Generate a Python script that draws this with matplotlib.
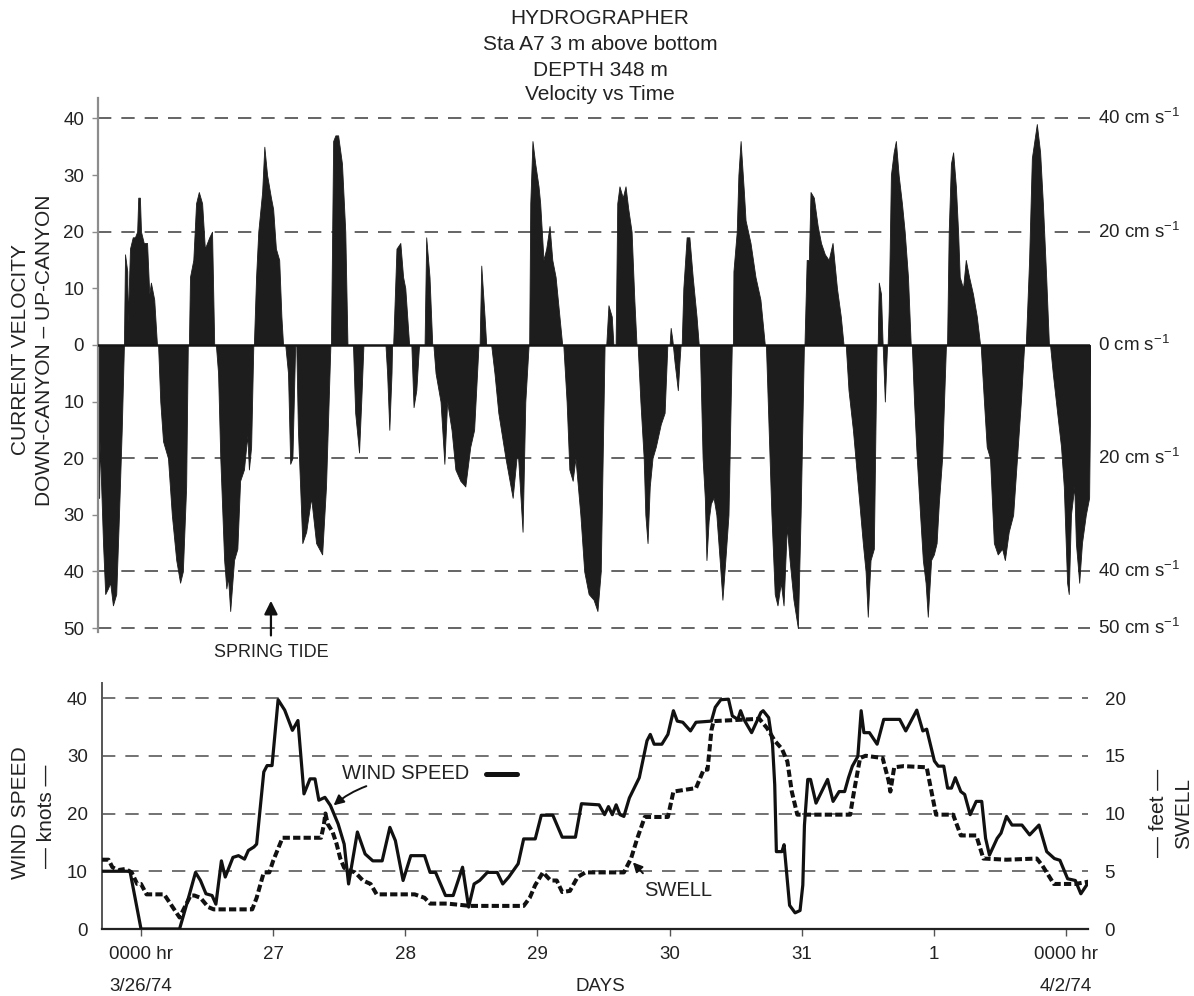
import matplotlib
matplotlib.use("Agg")
import matplotlib.pyplot as plt
import matplotlib.transforms as mtransforms

plt.rcParams['font.family'] = ['Liberation Sans', 'DejaVu Sans']
plt.rcParams['mathtext.fontset'] = 'custom'
plt.rcParams['mathtext.rm'] = 'Liberation Sans'
plt.rcParams['mathtext.it'] = 'Liberation Sans:italic'

# time axis: hours after 0000 hr 3/26/74
# current velocity (cm/s), + up-canyon, - down-canyon; one line per tidal lobe
vel_hours = [
    -8.0, -7.6, -7.5, -6.9, -6.5, -6.0, -5.6, -5.1, -4.5, -4.0, -3.5, -3.1,
    -2.9, -2.5, -2.4, -2.0, -1.5, -1.1, -0.7, -0.5, -0.2, 0.0, 0.5, 1.1, 1.5, 1.8, 2.4, 2.9,
    3.1, 3.5, 4.0, 4.9, 5.6, 6.4, 7.1, 7.6, 8.2, 8.5,
    8.7, 8.9, 9.5, 10.0, 10.5, 11.1, 11.6, 12.4, 12.9, 13.3,
    13.6, 14.0, 14.4, 15.1, 15.5, 15.8, 16.2, 16.9, 17.5, 18.0, 18.7, 19.3, 19.6, 20.0, 20.4,
    20.5, 20.9, 21.3, 22.0, 22.4, 22.9, 23.6, 24.0, 24.5, 25.1, 25.5, 25.8,
    26.2, 26.7, 27.1, 27.5, 28.0,
    28.2, 28.5, 29.3, 30.0, 30.9, 31.8, 32.9, 33.6, 34.4,
    34.5, 34.9, 35.3, 35.8, 36.5, 37.1, 37.5,
    38.5, 38.9, 39.6, 40.0, 40.4,
    44.4, 44.7, 45.1, 45.5, 45.6,
    45.8, 46.4, 47.1, 47.6, 48.0, 48.7,
    49.1, 49.5, 50.0, 50.5,
    51.5, 51.8, 52.4, 52.9,
    53.1, 53.5, 54.4, 55.1, 55.6, 56.4, 57.1, 58.0, 58.9, 59.8, 60.5, 61.3,
    61.5, 61.8, 62.4, 62.7,
    63.6, 64.2, 64.9, 66.2, 67.5, 68.2, 68.5, 69.3, 69.8, 70.4,
    70.5, 70.7, 71.1, 71.6, 72.2, 72.5, 73.1, 73.6, 74.2, 74.7, 75.3, 76.0, 76.5,
    76.7, 77.3, 77.8, 78.4, 78.9, 79.8, 80.5, 81.3, 82.2, 82.9, 83.5, 84.2,
    84.5, 84.9, 85.5, 85.8,
    86.2, 86.5, 86.9, 87.5, 88.0, 88.5, 89.1, 89.6, 90.0,
    90.2, 90.7, 91.3, 91.6, 92.0, 92.4, 92.9, 93.5, 94.4, 95.1, 95.6,
    96.0, 96.2, 96.5, 96.9, 97.5, 97.8, 98.0,
    98.2, 98.5, 99.1, 99.6, 100.2, 100.9, 101.3,
    101.5, 102.0, 102.4, 102.7, 103.1, 103.5, 104.0, 104.5, 105.1, 105.6, 106.2, 106.7, 107.3,
    107.5, 107.6, 108.2, 108.5, 108.9, 109.5, 109.8, 110.7, 111.6, 112.5, 113.3,
    113.5, 114.0, 114.5, 115.1, 115.6, 116.2, 116.7, 117.3, 117.8, 118.5, 119.3, 119.8, 120.4,
    120.5, 120.9, 121.3, 121.6, 122.2, 122.9, 123.5, 124.2, 124.9, 125.6, 126.4, 127.1, 127.6,
    128.0, 128.5, 129.3, 130.2, 131.1, 131.6, 132.0, 132.5, 133.1, 133.6,
    133.8, 134.0, 134.4, 134.7, 134.9, 135.1, 135.5,
    135.6, 135.8, 136.2, 136.7, 137.1, 137.6, 138.2, 138.7, 139.3, 139.8,
    140.0, 140.4, 140.9, 141.5, 142.0, 142.5, 142.9, 143.5, 144.0, 144.5, 144.9, 145.5, 146.2,
    146.4, 146.7, 147.1, 147.5, 148.0, 148.4, 148.7, 149.3, 149.8, 150.4, 151.1, 151.8, 152.4,
    152.5, 153.1, 153.6, 154.2, 154.9, 155.6, 156.4, 156.9, 157.6, 158.4, 159.1, 159.8, 160.4,
    160.7, 161.3, 161.8, 162.4, 162.7, 163.3, 163.8, 164.4, 164.9,
    165.1, 165.6, 166.4, 167.1, 167.6, 168.2, 168.5, 168.9, 169.5, 169.8, 170.4, 170.9, 171.6, 172.2, 172.5,
]
vel_cms = [
    -27, -27, -17, -35, -44, -43, -42, -46, -44, -30, -15, 0,
    16, 13, 4, 17, 19, 19, 20, 26, 26, 20, 18, 18, 9, 11, 8, 0,
    0, -10, -17, -20, -30, -38, -42, -40, -25, 0,
    0, 12, 15, 25, 27, 25, 17, 19, 20, 0,
    0, -5, -20, -38, -43, -41, -47, -38, -36, -24, -22, -16, -22, -18, 0,
    0, 12, 20, 27, 35, 30, 26, 24, 17, 15, 5, 0,
    0, -5, -21, -20, 0,
    0, -15, -35, -33, -27, -35, -37, -25, 0,
    0, 36, 37, 37, 32, 20, 0,
    0, -12, -19, -10, 0,
    0, -5, -15, -5, 0,
    0, 17, 18, 12, 10, 0,
    0, -11, -8, 0,
    0, 19, 12, 0,
    0, -5, -10, -21, -10, -15, -22, -24, -25, -18, -15, 0,
    0, 14, 5, 0,
    0, -5, -12, -20, -27, -20, -20, -33, -10, 0,
    0, 25, 36, 32, 28, 25, 15, 17, 21, 15, 12, 5, 0,
    0, -10, -22, -24, -20, -30, -40, -44, -45, -47, -40, 0,
    0, 7, 5, 0,
    0, 25, 28, 26, 28, 24, 20, 8, 0,
    0, -10, -20, -30, -35, -25, -20, -18, -14, -12, 0,
    0, 3, 1, -3, -8, -3, 0,
    0, 10, 19, 19, 12, 5, 0,
    0, -20, -27, -38, -31, -28, -27, -30, -38, -45, -37, -30, 0,
    0, 13, 20, 30, 36, 27, 22, 18, 12, 8, 0,
    0, -15, -30, -44, -46, -42, -46, -32, -38, -45, -50, -30, 0,
    0, 15, 15, 27, 26, 21, 18, 16, 15, 18, 10, 5, 0,
    0, -8, -15, -25, -35, -40, -48, -38, -36, 0,
    0, 11, 9, 0, -5, -10, 0,
    0, 6, 30, 34, 36, 30, 25, 20, 12, 0,
    0, -10, -20, -30, -38, -42, -48, -38, -37, -35, -28, -20, 0,
    0, 20, 32, 34, 28, 20, 12, 10, 15, 12, 9, 5, 0,
    0, -10, -18, -20, -35, -37, -36, -38, -33, -30, -20, -10, 0,
    0, 15, 33, 37, 39, 34, 25, 12, 0,
    0, -5, -12, -18, -25, -42, -44, -30, -25, -35, -42, -35, -30, -27, 0,
]

# wind speed (knots)
wind_hours = [
    -7.1, -2.0, 0.0, 7.0, 8.3, 9.9, 10.8, 11.8, 12.9, 13.6, 14.6, 15.3, 16.7, 17.7,
    18.8, 19.5, 20.5, 21.0, 22.3, 22.9, 23.8, 24.9, 26.1, 27.5, 28.5, 29.6, 30.7, 31.6,
    32.3, 33.4, 34.4, 35.8, 36.9, 37.7, 39.3, 40.7, 42.1, 43.8, 45.2, 46.2, 47.6, 49.0,
    51.5, 52.5, 53.5, 55.3, 56.7, 58.4, 59.5, 60.5, 61.5, 62.9, 64.7, 65.7, 66.8, 68.5,
    69.5, 71.6, 72.7, 74.8, 76.5, 78.9, 80.0, 83.2, 84.2, 84.9, 85.6, 86.3, 87.0, 87.7,
    88.7, 90.5, 91.9, 92.5, 93.2, 94.6, 95.7, 96.7, 97.4, 98.4, 99.8, 100.8, 103.6, 104.3,
    105.3, 106.7, 107.4, 108.4, 108.9, 109.5, 110.9, 112.6, 113.0, 114.0, 114.7, 115.1,
    115.4, 116.4, 116.8, 117.8, 118.8, 119.7, 120.2, 120.5, 121.1, 121.6, 122.6, 124.7,
    125.7, 126.8, 127.8, 128.5, 129.2, 130.2, 130.8, 131.3, 132.3, 133.7, 134.9, 135.8,
    137.8, 138.9, 140.9, 142.0, 142.7, 144.1, 144.8, 145.8, 146.5, 147.2, 147.9, 148.9,
    149.6, 150.6, 151.7, 152.7, 153.4, 154.1, 155.5, 156.2, 157.2, 158.2, 160.0, 161.4,
    163.1, 164.5, 165.9, 166.9, 168.3, 169.7, 170.7, 172.1,
]
wind_knots = [
    10, 10, 0, 0, 4.3, 9.8, 8.4, 6.1, 5.8, 4.3, 11.8, 9.0, 12.4, 12.7,
    12.1, 13.6, 14.2, 14.7, 27.2, 28.3, 28.3, 39.7, 37.9, 34.4, 36.1, 23.4, 26.0, 26.0,
    22.3, 22.8, 21.4, 18.2, 14.7, 7.8, 16.8, 13.0, 11.8, 11.8, 17.6, 15.3, 8.4, 12.7,
    12.7, 9.8, 9.8, 5.8, 5.8, 10.7, 3.8, 7.8, 8.4, 9.8, 9.8, 7.8, 9.0, 11.3,
    15.6, 15.6, 19.7, 19.7, 15.9, 15.9, 21.7, 21.5, 19.8, 21.2, 19.8, 21.5, 19.8, 19.5,
    22.7, 26.2, 32.6, 33.7, 32.0, 32.0, 33.7, 37.8, 36.0, 35.8, 34.3, 35.8, 36.0, 38.4,
    39.7, 39.8, 36.9, 36.3, 37.8, 36.3, 34.0, 37.5, 37.8, 36.6, 32.0, 25.0,
    13.4, 13.4, 14.6, 4.1, 2.8, 3.2, 7.6, 18.0, 25.9, 25.9, 21.8, 25.9,
    22.1, 23.8, 23.8, 26.2, 28.2, 29.9, 37.8, 34.0, 34.0, 32.0, 36.3, 36.3,
    36.3, 34.3, 37.9, 34.3, 34.6, 29.1, 28.2, 28.2, 24.4, 24.4, 26.2, 23.8,
    23.3, 19.8, 22.1, 22.1, 15.7, 12.8, 15.7, 16.6, 19.5, 18.0, 18.0, 16.3,
    18.0, 13.4, 12.2, 11.9, 8.7, 8.4, 6.1, 8.1,
]

# swell height (feet)
swell_hours = [
    -7.1, -5.9, -5.2, -4.2, -2.8, -1.7, -0.7, 0.0, 1.0, 4.2, 5.6, 7.0, 9.0, 9.7,
    10.8, 12.2, 13.2, 20.2, 21.0, 22.3, 23.3, 24.0, 25.7, 32.7, 33.2, 33.5, 33.9, 34.8,
    35.5, 36.2, 36.9, 37.6, 38.9, 40.3, 41.7, 42.8, 49.7, 51.5, 52.5, 55.6, 59.8, 69.5,
    70.6, 71.6, 73.0, 74.4, 75.5, 76.5, 77.9, 79.3, 80.7, 87.7, 89.0, 90.1, 91.5, 95.7,
    96.7, 100.8, 102.2, 102.9, 103.6, 104.0, 112.3, 113.7, 115.1, 116.4, 117.4, 118.2,
    119.2, 128.8, 129.5, 130.6, 131.6, 134.7, 135.8, 136.1, 136.8, 138.5, 142.7, 144.4,
    147.5, 148.9, 151.7, 153.0, 157.2, 162.7, 163.7, 165.8, 169.7, 172.1,
]
swell_feet = [
    6.0, 6.0, 5.35, 5.1, 5.2, 4.9, 3.9, 3.9, 3.0, 3.0, 2.0, 1.0, 2.9, 2.9,
    2.7, 1.9, 1.7, 1.7, 2.7, 4.9, 4.9, 5.9, 7.9, 7.9, 9.0, 10.0, 9.1, 8.4,
    7.4, 6.1, 5.3, 5.1, 4.9, 4.2, 3.9, 3.0, 3.0, 2.7, 2.2, 2.2, 2.0, 2.0,
    2.7, 3.8, 4.9, 4.2, 4.2, 3.2, 3.3, 4.5, 4.9, 4.9, 6.1, 7.8, 9.7, 9.7,
    11.9, 12.2, 13.8, 13.8, 17.2, 18.0, 18.2, 17.4, 16.3, 15.6, 14.5, 11.9,
    9.9, 9.9, 11.9, 14.8, 15.0, 14.8, 12.8, 11.9, 14.0, 14.1, 14.0, 9.9,
    9.9, 8.1, 8.1, 6.1, 6.0, 6.1, 5.5, 3.9, 3.9, 4.1,
]

vel_ticks = [40, 30, 20, 10, 0, -10, -20, -30, -40, -50]
vel_ref_lines = [40, 20, -20, -40, -50]
vel_right_labels = [40, 20, 0, -20, -40, -50]
wind_ticks = [0, 10, 20, 30, 40]
swell_ticks = [0, 5, 10, 15, 20]
day_ticks = [0, 24, 48, 72, 96, 120, 144, 168]
day_labels = ['0000 hr', '27', '28', '29', '30', '31', '1', '0000 hr']
date_labels = [(0, '3/26/74'), (83.5, 'DAYS'), (168, '4/2/74')]

W, H = 1194, 996
TICK_FS = 13.5
LABEL_FS = 15


def box(x0, y0, x1, y1):
    return [x0 / W, 1 - y1 / H, (x1 - x0) / W, (y1 - y0) / H]


fig = plt.figure(figsize=(W / 100, H / 100), dpi=100)
fig.patch.set_facecolor('white')

# title
for y, s in zip([18, 45, 70, 95], ['HYDROGRAPHER', 'Sta A7 3 m above bottom',
                                   'DEPTH 348 m', 'Velocity vs Time']):
    fig.text(600 / W, 1 - y / H, s, ha='center', va='center', fontsize=LABEL_FS, color='#222')

# ---- current velocity panel ----
ax1 = fig.add_axes(box(98, 98, 1090, 632))
ax1.set_xlim(-7.81, 172.36)
ax1.set_ylim(-50.7, 43.6)
ax1.fill_between(vel_hours, vel_cms, 0, color='#1d1d1d', lw=0.6, edgecolor='#1d1d1d', zorder=2)
ax1.axhline(0, color='#151515', lw=1.8, zorder=3)
for v in vel_ref_lines:
    ax1.axhline(v, color='#4a4a4a', lw=1.2, linestyle=(0, (8, 6)), zorder=1)
for s in ['top', 'right', 'bottom']:
    ax1.spines[s].set_visible(False)
ax1.spines['left'].set_color('#8c8c8c')
ax1.spines['left'].set_linewidth(1.6)
ax1.set_yticks(vel_ticks)
ax1.set_yticklabels([str(abs(v)) for v in vel_ticks])
ax1.tick_params(axis='y', length=4, width=1, color='#8c8c8c', labelsize=TICK_FS,
                labelcolor='#222', pad=6)
ax1.set_xticks([])
tr1 = mtransforms.blended_transform_factory(ax1.transAxes, ax1.transData)
for v in vel_right_labels:
    ax1.text(1.008, v, f'{abs(v)} cm s$^{{-1}}$', transform=tr1, ha='left', va='center',
             fontsize=TICK_FS, color='#222')

ax1.annotate('', xy=(23.6, -44.7), xytext=(23.6, -51.8),
             arrowprops=dict(arrowstyle='-|>', color='#111', lw=1.6, mutation_scale=20),
             annotation_clip=False)
ax1.text(23.6, -54.4, 'SPRING TIDE', ha='center', va='center', fontsize=13, color='#222',
         clip_on=False)

fig.text(21 / W, 1 - 350 / H, 'CURRENT VELOCITY', rotation=90, ha='center', va='center',
         fontsize=LABEL_FS, color='#222')
fig.text(45 / W, 1 - 350 / H, 'DOWN-CANYON \u2013 UP-CANYON', rotation=90, ha='center',
         va='center', fontsize=LABEL_FS, color='#222')

# ---- wind / swell panel ----
ax2 = fig.add_axes(box(101.7, 683, 1088, 929))
ax2.set_xlim(-7.14, 172.0)
ax2.set_ylim(0, 42.6)
for k in wind_ticks[1:]:
    ax2.axhline(k, color='#5a5a5a', lw=1.2, linestyle=(0, (8, 6)), zorder=1)
ax2.plot(wind_hours, wind_knots, color='#111', lw=2.3, zorder=4, solid_joinstyle='round')
ax3 = ax2.twinx()
ax3.set_ylim(0, 42.6 / 2)
ax3.plot(swell_hours, swell_feet, color='#111', lw=2.9, linestyle=(0, (1.8, 0.8)), zorder=3)

for a in (ax2, ax3):
    for s in ['top', 'right']:
        a.spines[s].set_visible(False)
ax3.spines['left'].set_visible(False)
ax3.spines['bottom'].set_visible(False)
ax2.spines['left'].set_color('#555')
ax2.spines['left'].set_linewidth(1.4)
ax2.spines['bottom'].set_color('#222')
ax2.spines['bottom'].set_linewidth(1.6)

ax2.set_yticks(wind_ticks)
ax2.tick_params(axis='y', length=0, labelsize=TICK_FS, labelcolor='#222', pad=10)
ax3.set_yticks(swell_ticks)
ax3.tick_params(axis='y', length=0, labelsize=TICK_FS, labelcolor='#222', pad=12)
ax2.set_xticks(day_ticks)
ax2.set_xticklabels(day_labels)
ax2.tick_params(axis='x', direction='out', length=5, width=1, color='#555',
                labelsize=TICK_FS, labelcolor='#222', pad=7)
trx = mtransforms.blended_transform_factory(ax2.transData, ax2.transAxes)
for x, s in date_labels:
    ax2.text(x, -0.232, s, transform=trx, ha='center', va='center', fontsize=TICK_FS,
             color='#222')

ax2.text(36.5, 27.0, 'WIND SPEED', ha='left', va='center', fontsize=14.5, color='#222')
ax2.plot([62.6, 68.2], [26.8, 26.8], color='#111', lw=3.6, solid_capstyle='round')
ax2.annotate('', xy=(34.6, 21.1), xytext=(41.4, 24.9),
             arrowprops=dict(arrowstyle='-|>', color='#111', lw=1.4, mutation_scale=15,
                             connectionstyle='arc3,rad=0.1'))
ax2.text(97.5, 6.7, 'SWELL', ha='center', va='center', fontsize=14.5, color='#222')
ax2.annotate('', xy=(89.0, 11.9), xytext=(91.5, 9.3),
             arrowprops=dict(arrowstyle='-|>', color='#111', lw=1.4, mutation_scale=14))

fig.text(21 / W, 1 - 813 / H, 'WIND SPEED', rotation=90, ha='center', va='center',
         fontsize=LABEL_FS, color='#222')
fig.text(46 / W, 1 - 816 / H, '\u2014 knots \u2014', rotation=90, ha='center', va='center',
         fontsize=LABEL_FS, color='#222')
fig.text(1159 / W, 1 - 813 / H, '\u2014 feet \u2014', rotation=90, ha='center', va='center',
         fontsize=LABEL_FS, color='#222')
fig.text(1184 / W, 1 - 813 / H, 'SWELL', rotation=90, ha='center', va='center',
         fontsize=LABEL_FS, color='#222')

fig.savefig('out.png', dpi=100, facecolor='white')
